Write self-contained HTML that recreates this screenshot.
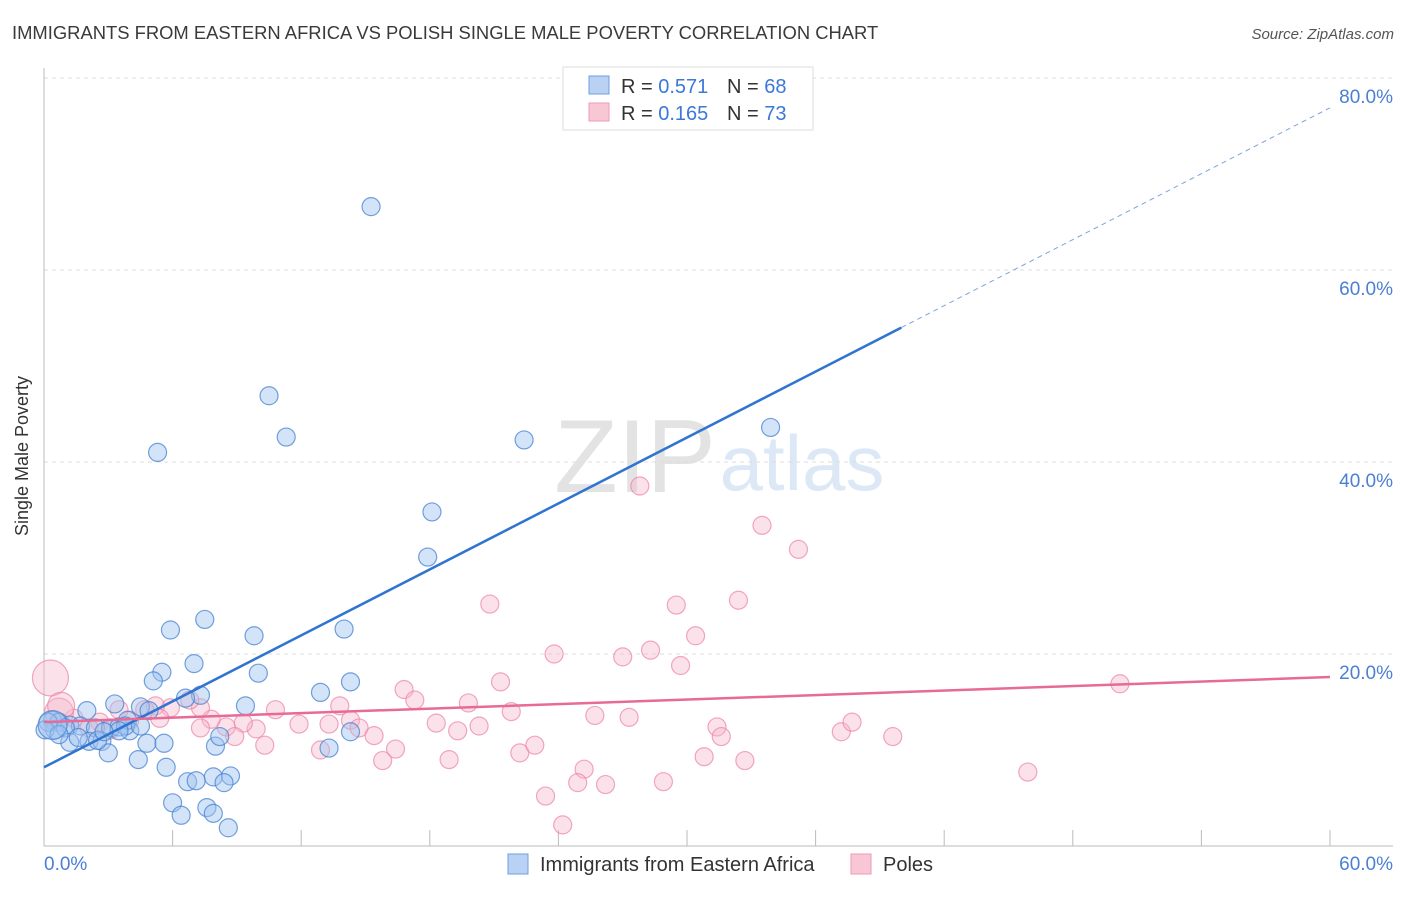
<!DOCTYPE html>
<html><head><meta charset="utf-8"><style>
body{margin:0;background:#fff;font-family:"Liberation Sans",sans-serif}
svg text{font-family:"Liberation Sans",sans-serif}
</style></head><body>
<svg id="chart" width="1406" height="892">
<text x="12" y="39" font-size="18.4" fill="#3a3a3a">IMMIGRANTS FROM EASTERN AFRICA VS POLISH SINGLE MALE POVERTY CORRELATION CHART</text>
<text x="1394" y="39" font-size="15" fill="#555" font-style="italic" text-anchor="end">Source: ZipAtlas.com</text>
<text x="28" y="456" font-size="18" fill="#333" transform="rotate(-90 28 456)" text-anchor="middle">Single Male Poverty</text>
<g><text x="635" y="492" font-size="104" fill="#e3e3e3" font-family="Liberation Serif" text-anchor="middle">ZIP</text><text x="802" y="490" font-size="78" fill="#dce8f6" text-anchor="middle">atlas</text></g>
<g id="grid"></g><g id="axes"></g><g id="pts"></g><g id="lines"></g>
<g>
<rect x="563" y="67" width="250" height="63" fill="#fff" stroke="#ddd"/>
<rect x="589" y="76" width="20" height="18" fill="#b9d2f4" stroke="#6d9ee0"/>
<rect x="589" y="103" width="20" height="18" fill="#f9c6d5" stroke="#ee9ab5"/>
<text x="621" y="93" font-size="20" fill="#333">R = <tspan fill="#3b78d8">0.571</tspan></text>
<text x="727" y="93" font-size="20" fill="#333">N = <tspan fill="#3b78d8">68</tspan></text>
<text x="621" y="120" font-size="20" fill="#333">R = <tspan fill="#3b78d8">0.165</tspan></text>
<text x="727" y="120" font-size="20" fill="#333">N = <tspan fill="#3b78d8">73</tspan></text>
</g>
<g>
<rect x="508" y="854" width="20" height="20" fill="#b9d2f4" stroke="#6d9ee0"/>
<text x="540" y="871" font-size="20" fill="#333">Immigrants from Eastern Africa</text>
<rect x="851" y="854" width="20" height="20" fill="#f9c6d5" stroke="#ee9ab5"/>
<text x="883" y="871" font-size="20" fill="#333">Poles</text>
</g>
</svg>
<script>
const blueX=[15.26,10.5,11.3,5.3,22.4,33.9,18.1,17.9,7.5,5.9,9.8,14.0,7.0,5.5,5.1,10.0,12.9,14.3,7.3,6.6,3.3,4.5,2.0,9.4,4.9,0.4,0.7,1.2,1.7,2.4,3.1,3.5,4.0,0.5,1.0,2.1,2.7,1.2,4.8,5.6,8.0,8.2,3.0,4.4,5.7,13.3,14.3,7.9,6.7,7.1,8.7,8.4,6.0,6.4,7.6,7.9,8.6,0.2,0.05,3.9,3.8,2.5,1.6,4.5,3.5,2.8,0.7,0.4];
const blueY=[66.6,46.9,42.6,41.0,42.3,43.6,34.8,30.1,23.6,22.5,21.9,22.6,19.0,18.1,17.2,18.0,16.0,17.1,15.7,15.4,14.8,14.5,14.1,14.6,14.1,13.1,12.9,12.6,12.5,12.3,12.3,12.4,12.0,12.1,12.3,10.9,10.9,10.8,10.7,10.7,10.4,11.4,9.7,9.0,8.2,10.2,11.9,7.2,6.7,6.8,7.3,6.6,4.5,3.2,4.0,3.4,1.9,12.9,12.1,13.1,12.5,11.0,11.3,12.5,12.0,11.9,11.6,12.6];
const blueSize=[1,1,1,1,1,1,1,1,1,1,1,1,1,1,1,1,1,1,1,1,1,1,1,1,1,1,1,1,1,1,1,1,1,1,1,1,1,1,1,1,1,1,1,1,1,1,1,1,1,1,1,1,1,1,1,1,1,1,1,1,1,1,1,1,1,1,1,1.6];
const pinkX=[27.8,33.5,35.2,20.8,29.5,32.4,30.4,23.8,27.0,28.3,29.7,21.3,16.8,17.3,19.8,21.8,25.7,27.3,18.3,19.3,20.3,13.8,14.3,10.8,11.9,13.3,14.7,15.4,9.9,9.3,8.5,7.8,7.3,5.9,5.2,4.7,4.0,3.5,2.6,2.1,1.4,0.7,0.3,0.8,8.9,10.3,12.9,16.4,18.9,22.2,22.9,15.8,25.2,24.9,26.2,23.4,24.2,28.9,30.8,31.4,31.6,32.7,37.2,37.7,39.6,45.9,50.2,6.8,3.1,5.4,7.3];
const pinkY=[37.5,33.4,30.9,25.2,25.1,25.6,21.9,20.0,19.7,20.4,18.8,17.1,16.3,15.2,14.9,14.0,13.6,13.4,12.8,12.0,12.5,14.6,13.1,14.2,12.7,12.7,12.3,11.5,12.2,12.8,12.4,13.2,14.4,14.4,14.6,14.2,13.1,14.2,12.9,12.3,13.3,13.9,17.5,14.6,11.4,10.5,10.0,10.1,9.0,9.7,10.5,8.9,8.0,6.6,6.4,5.2,2.2,6.7,9.3,12.4,11.4,8.9,11.9,12.9,11.4,7.7,16.9,15.2,12.1,13.3,12.3];
const pinkSize=[1,1,1,1,1,1,1,1,1,1,1,1,1,1,1,1,1,1,1,1,1,1,1,1,1,1,1,1,1,1,1,1,1,1,1,1,1,1,1,1,1,1.6,2,1.5,1,1,1,1,1,1,1,1,1,1,1,1,1,1,1,1,1,1,1,1,1,1,1,1,1,1,1];
const xTicks=[0,60];
const yTicks=[20,40,60,80];
const blueTrend=[8.2,76.9];
const pinkTrend=[12.9,17.6];
const NS='http://www.w3.org/2000/svg';
const sx=v=>44+v*1286/60;
const sy=v=>846-v*9.6;
function mk(t,a,p){const e=document.createElementNS(NS,t);for(const k in a)e.setAttribute(k,a[k]);p.appendChild(e);return e;}
const grid=document.getElementById('grid'),axes=document.getElementById('axes'),pts=document.getElementById('pts'),lines=document.getElementById('lines');
yTicks.forEach(v=>{
const l=mk('line',{x1:44,x2:1393,y1:sy(v),y2:sy(v),stroke:'#ddd','stroke-dasharray':'4,4'},grid);


const t=mk('text',{x:1393,y:sy(v)+25,'font-size':19,fill:'#4a7fd4','text-anchor':'end'},axes);t.textContent=v.toFixed(1)+'%';


});
const ax=mk('line',{x1:44,x2:44,y1:68,y2:846,stroke:'#bbb'},axes);


const bx=mk('line',{x1:44,x2:1393,y1:846,y2:846,stroke:'#bbb'},axes);


for(let i=1;i<=10;i++){const tk=mk('line',{x1:sx(i*6),x2:sx(i*6),y1:830,y2:846,stroke:'#bbb'},axes);

}
xTicks.forEach((v,i)=>{const t=mk('text',{x:i?1393:44,y:870,'font-size':19,fill:'#4a7fd4','text-anchor':i?'end':'start'},axes);t.textContent=v.toFixed(1)+'%';

});
function dots(X,Y,S,fill,stroke,name){X.forEach((x,i)=>{const c=mk('circle',{cx:sx(x),cy:sy(Y[i]),r:9*S[i],fill:fill,stroke:stroke,'stroke-width':1.2},pts);

});}
dots(pinkX,pinkY,pinkSize,'rgba(246,182,202,0.4)','rgba(236,130,165,0.7)','poles-point');
dots(blueX,blueY,blueSize,'rgba(160,196,240,0.45)','rgba(70,130,210,0.75)','eastern-africa-point');
const bAt=x=>blueTrend[0]+(blueTrend[1]-blueTrend[0])*x/60;
const l1=mk('line',{x1:sx(0),y1:sy(bAt(0)),x2:sx(40),y2:sy(bAt(40)),stroke:'#2f74d0','stroke-width':2.5},lines);


const l2=mk('line',{x1:sx(40),y1:sy(bAt(40)),x2:sx(60),y2:sy(bAt(60)),stroke:'#7aa6e0','stroke-width':1,'stroke-dasharray':'5,4'},lines);


const l3=mk('line',{x1:sx(0),y1:sy(pinkTrend[0]),x2:sx(60),y2:sy(pinkTrend[1]),stroke:'#e86a96','stroke-width':2.5},lines);


</script>
</body></html>
